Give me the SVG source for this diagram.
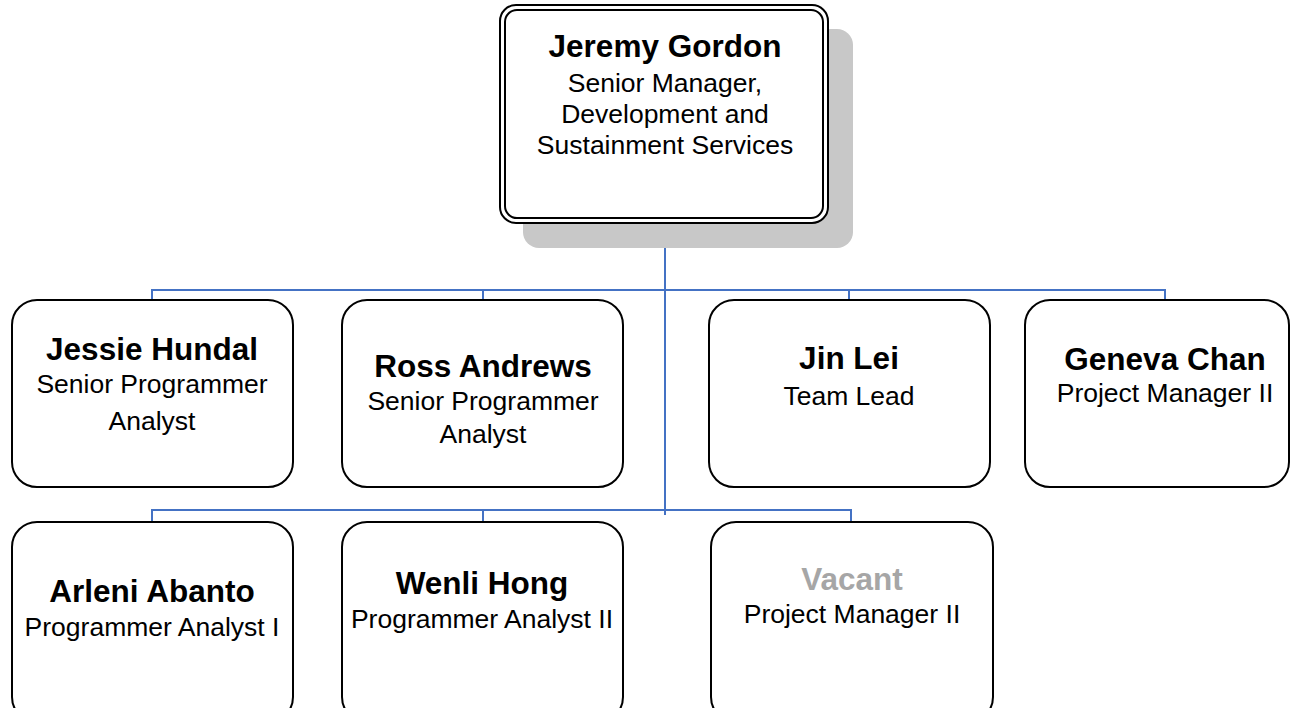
<svg xmlns="http://www.w3.org/2000/svg" width="1290" height="708" viewBox="0 0 1290 708">
<style>
.box{fill:#fff;stroke:#000;stroke-width:2}
.nm{font-family:"Liberation Sans",Arial,sans-serif;font-weight:bold;font-size:31.5px;text-anchor:middle;fill:#000}
.tt{font-family:"Liberation Sans",Arial,sans-serif;font-size:26.5px;text-anchor:middle;fill:#000}
.cn{fill:none;stroke:#4472C4;stroke-width:2}
</style>
<rect width="1290" height="708" fill="#fff"/>
<g id="connectors">
<path class="cn" d="M665 223V515"/>
<path class="cn" d="M152 300V290H1165V300M483 290V300M849 290V300"/>
<path class="cn" d="M152 522V510H851V522M483 510V522"/>
</g>
<g id="jeremy">
<rect x="523" y="29" width="330" height="219" rx="16" fill="#c8c8c8"/>
<rect x="500" y="5" width="328" height="218" rx="16" class="box"/>
<rect x="505" y="10" width="318" height="208" rx="12" class="box"/>
<text class="nm" x="665" y="57">Jeremy Gordon</text>
<text class="tt" x="665" y="92">Senior Manager,</text>
<text class="tt" x="665" y="123">Development and</text>
<text class="tt" x="665" y="154">Sustainment Services</text>
</g>
<g id="jessie">
<rect x="12" y="300" width="281" height="187" rx="25" class="box"/>
<text class="nm" x="152" y="360">Jessie Hundal</text>
<text class="tt" x="152" y="393">Senior Programmer</text>
<text class="tt" x="152" y="430">Analyst</text>
</g>
<g id="ross">
<rect x="342" y="300" width="281" height="187" rx="25" class="box"/>
<text class="nm" x="483" y="377">Ross Andrews</text>
<text class="tt" x="483" y="410">Senior Programmer</text>
<text class="tt" x="483" y="443">Analyst</text>
</g>
<g id="jinlei">
<rect x="709" y="300" width="281" height="187" rx="25" class="box"/>
<text class="nm" x="849" y="369">Jin Lei</text>
<text class="tt" x="849" y="405">Team Lead</text>
</g>
<g id="geneva">
<rect x="1025" y="300" width="264" height="187" rx="25" class="box"/>
<text class="nm" x="1165" y="370">Geneva Chan</text>
<text class="tt" x="1165" y="402">Project Manager II</text>
</g>
<g id="arleni">
<rect x="12" y="522" width="281" height="200" rx="25" class="box"/>
<text class="nm" x="152" y="602">Arleni Abanto</text>
<text class="tt" x="152" y="636">Programmer Analyst I</text>
</g>
<g id="wenli">
<rect x="342" y="522" width="281" height="200" rx="25" class="box"/>
<text class="nm" x="482" y="594">Wenli Hong</text>
<text class="tt" x="482" y="628">Programmer Analyst II</text>
</g>
<g id="vacant">
<rect x="711" y="522" width="282" height="200" rx="25" class="box"/>
<text class="nm" x="852" y="590" style="fill:#A6A6A6">Vacant</text>
<text class="tt" x="852" y="623">Project Manager II</text>
</g>
</svg>
